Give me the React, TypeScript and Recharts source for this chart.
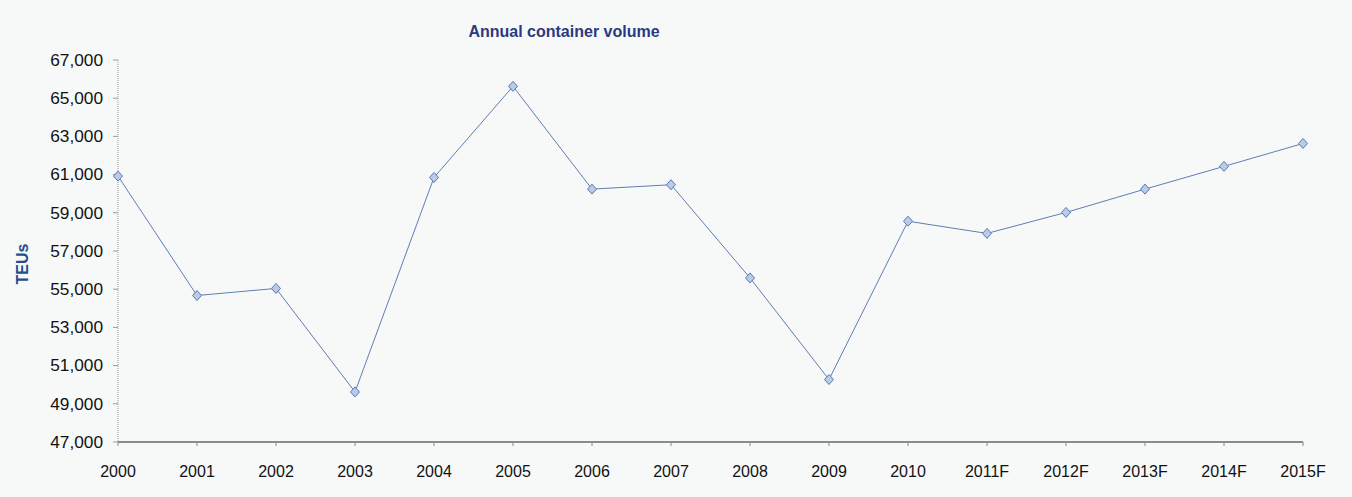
import { LineChart, Line, XAxis, YAxis } from "recharts";

const YEARS = [
  "2000", "2001", "2002", "2003", "2004", "2005", "2006", "2007",
  "2008", "2009", "2010", "2011F", "2012F", "2013F", "2014F", "2015F",
];

const TEUS = [
  60920, 54670, 55040, 49620, 60850, 65620, 60240, 60470,
  55590, 50270, 58560, 57920, 59020, 60240, 61430, 62630,
];

const Y_TICKS = [47000, 49000, 51000, 53000, 55000, 57000, 59000, 61000, 63000, 65000, 67000];

const data = YEARS.map((year, i) => ({ year, teus: TEUS[i] }));

const FONT = "'Liberation Sans', Arial, sans-serif";

// eslint-disable-next-line @typescript-eslint/no-explicit-any
const XTick = (props: any) => {
  const { x, y, payload } = props;
  return (
    <text
      x={x}
      y={y + 29}
      textAnchor="middle"
      fontSize={16}
      fontFamily={FONT}
      fill="#111"
    >
      {payload.value}
    </text>
  );
};

// y labels in the source are a touch wider than plain Arial
// eslint-disable-next-line @typescript-eslint/no-explicit-any
const YTick = (props: any) => {
  const { x, y, payload } = props;
  return (
    <g transform={`translate(${x},${y})`}>
      <text
        transform="scale(1.08,1)"
        y={5.7}
        textAnchor="end"
        fontSize={16}
        fontFamily={FONT}
        fill="#111"
      >
        {payload.value.toLocaleString("en-US")}
      </text>
    </g>
  );
};

// eslint-disable-next-line @typescript-eslint/no-explicit-any
const Diamond = (props: any) => {
  const { cx, cy, index } = props;
  if (cx == null || cy == null) return null;
  return (
    <polygon
      key={`d-${index}`}
      points={`${cx},${cy - 5} ${cx + 4.5},${cy} ${cx},${cy + 5} ${cx - 4.5},${cy}`}
      fill="#b9cbe6"
      stroke="#5a78b0"
      strokeWidth={1}
    />
  );
};

export default function App() {
  return (
    <div
      style={{
        position: "fixed",
        left: 0,
        top: 0,
        width: 1352,
        height: 497,
        background: "#f7f9f9",
      }}
    >
      <div
        style={{
          position: "absolute",
          left: 564,
          top: 23,
          transform: "translateX(-50%)",
          fontFamily: FONT,
          fontWeight: "bold",
          fontSize: 16,
          color: "#2b3a80",
          whiteSpace: "nowrap",
        }}
      >
        Annual container volume
      </div>
      <div
        style={{
          position: "absolute",
          left: 23,
          top: 264,
          transform: "translate(-50%,-50%) rotate(-90deg)",
          fontFamily: FONT,
          fontWeight: "bold",
          fontSize: 16,
          color: "#1f4f8f",
          whiteSpace: "nowrap",
        }}
      >
        TEUs
      </div>
      <LineChart
        width={1352}
        height={497}
        data={data}
        margin={{ top: 60, right: 49, bottom: 25, left: 0 }}
      >
        <XAxis
          dataKey="year"
          interval={0}
          height={30}
          tick={<XTick />}
          tickSize={4}
          axisLine={{ stroke: "#666", strokeWidth: 1.5 }}
          tickLine={{ stroke: "#888" }}
        />
        <YAxis
          width={118}
          domain={[47000, 67000]}
          ticks={Y_TICKS}
          interval={0}
          tick={<YTick />}
          tickSize={5}
          tickMargin={10}
          axisLine={{ stroke: "#999", strokeDasharray: "1 1" }}
          tickLine={{ stroke: "#999" }}
        />
        <Line
          type="linear"
          dataKey="teus"
          stroke="#5f7db3"
          strokeWidth={1}
          dot={<Diamond />}
          activeDot={false}
          isAnimationActive={false}
        />
      </LineChart>
    </div>
  );
}
